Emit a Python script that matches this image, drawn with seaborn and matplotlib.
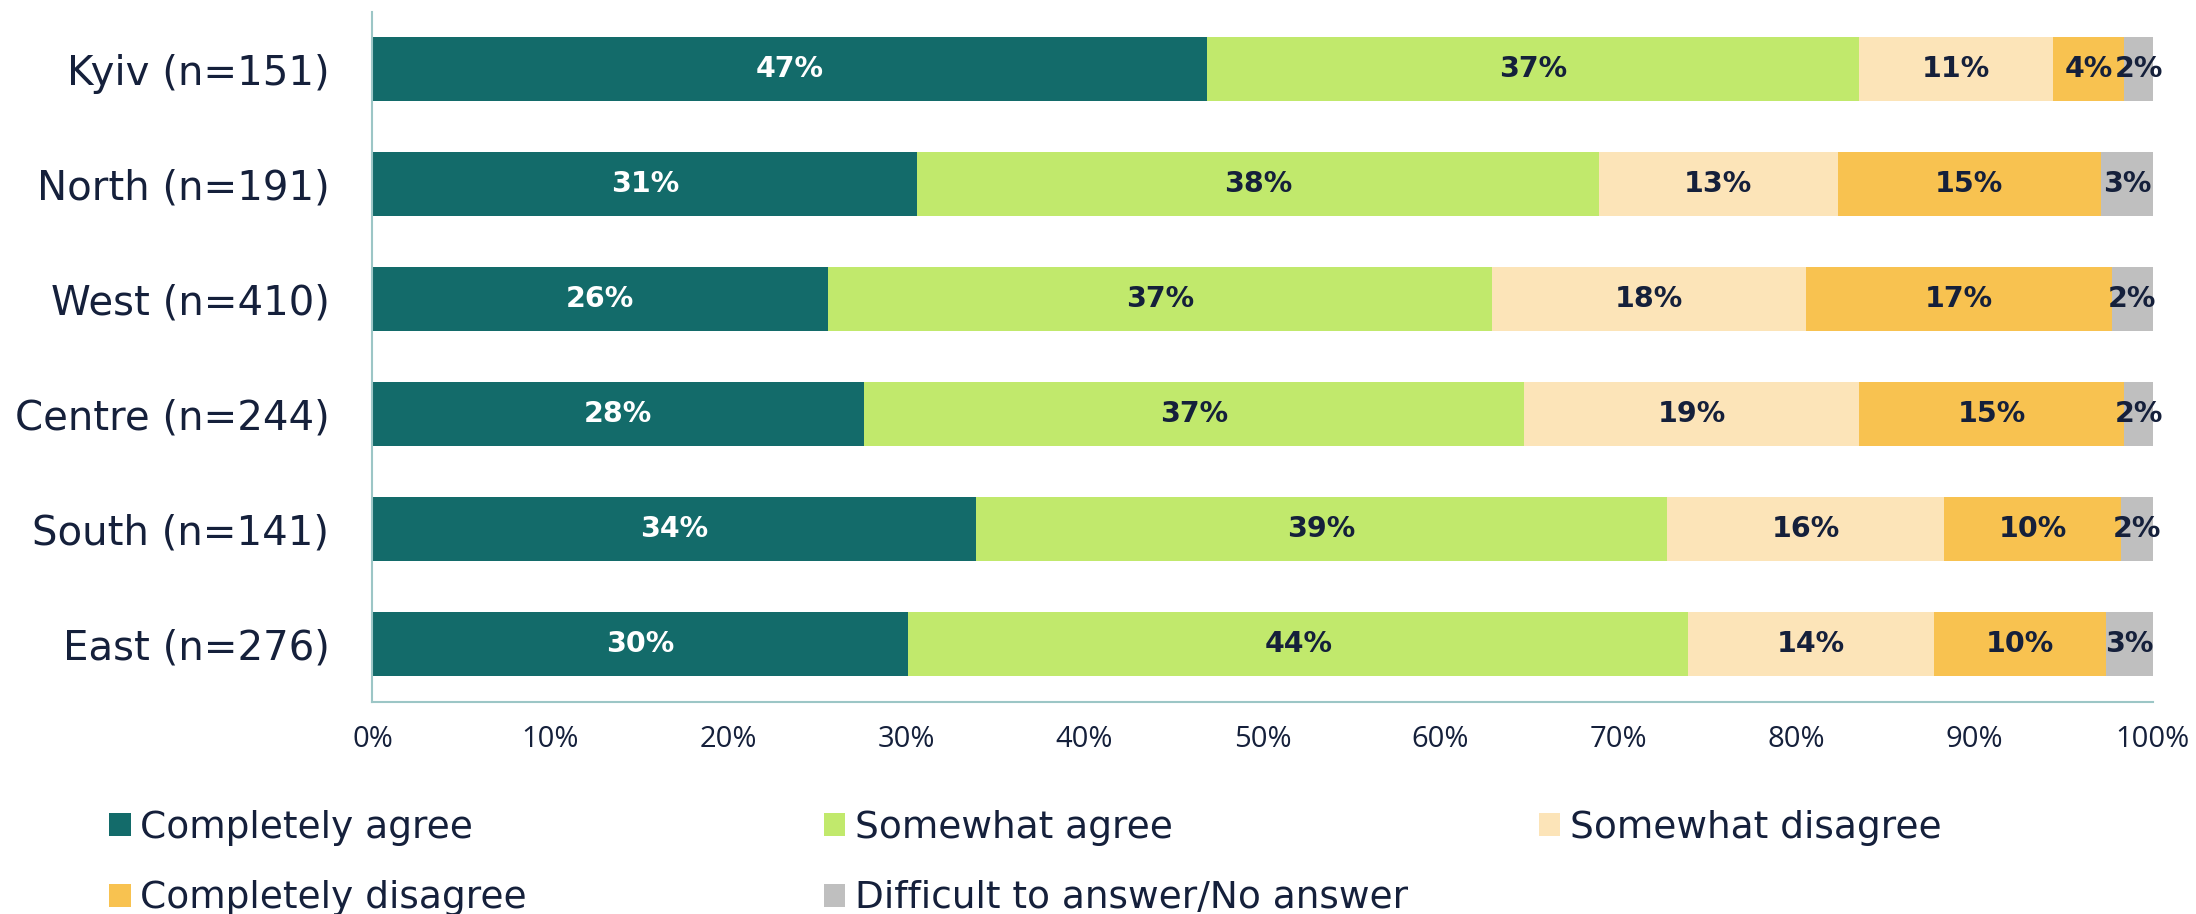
import numpy as np
import pandas as pd
import matplotlib
matplotlib.use("Agg")
import matplotlib.pyplot as plt
from matplotlib.patches import Patch
import seaborn as sns

# Survey shares by region (percent of respondents)
regions = ["Kyiv (n=151)", "North (n=191)", "West (n=410)",
           "Centre (n=244)", "South (n=141)", "East (n=276)"]
answers = ["Completely agree", "Somewhat agree", "Somewhat disagree",
           "Completely disagree", "Difficult to answer/No answer"]

completely_agree = [46.9, 30.6, 25.6, 27.6, 33.9, 30.1]
somewhat_agree = [36.6, 38.3, 37.3, 37.1, 38.8, 43.8]
somewhat_disagree = [10.9, 13.4, 17.6, 18.8, 15.6, 13.8]
completely_disagree = [4.0, 14.8, 17.2, 14.9, 9.9, 9.7]
no_answer = [1.6, 2.9, 2.3, 1.6, 1.8, 2.6]

tick_values = [0, 10, 20, 30, 40, 50, 60, 70, 80, 90, 100]

colors = ["#136b6a", "#c1e96c", "#fce4b8", "#f8c250", "#bfbfbf"]
label_colors = ["white", "#15203b", "#15203b", "#15203b", "#15203b"]
text_color = "#15203b"
axis_color = "#9cc6c6"

series = [completely_agree, somewhat_agree, somewhat_disagree,
          completely_disagree, no_answer]

rows = []
for ans, vals in zip(answers, series):
    for reg, v in zip(regions, vals):
        rows.append({"region": reg, "answer": ans, "value": v})
df = pd.DataFrame(rows)
df["answer"] = pd.Categorical(df["answer"], categories=answers, ordered=True)
df["region"] = pd.Categorical(df["region"], categories=regions, ordered=True)
df = df.sort_values(["region", "answer"])
df["right"] = df.groupby("region", observed=True)["value"].cumsum()
df["left"] = df["right"] - df["value"]

sns.set_theme(style="white")
plt.rcParams["font.family"] = ["Open Sans", "DejaVu Sans"]

fig = plt.figure(figsize=(21.96, 9.14), dpi=100)
ax = fig.add_axes([0.1696, 0.2323, 0.8107, 0.7549])

# Stacked bars: draw cumulative totals from the last answer backwards
for ans, col in reversed(list(zip(answers, colors))):
    sub = df[df["answer"] == ans]
    sns.barplot(data=sub, x="right", y="region", order=regions,
                color=col, orient="h", width=0.555, saturation=1,
                errorbar=None, ax=ax, linewidth=0)

# Value labels centred in each segment
pos = {r: i for i, r in enumerate(regions)}
for _, r in df.iterrows():
    k = answers.index(r["answer"])
    ax.text(r["left"] + r["value"] / 2, pos[r["region"]],
            f"{int(np.floor(r['value'] + 0.5))}%",
            ha="center", va="center", fontsize=20.5, fontweight="bold",
            family="DejaVu Sans", color=label_colors[k])

ax.set_xlim(0, 100)
ax.set_ylim(5.5, -0.5)
ax.set_xticks(tick_values)
ax.set_xticklabels([f"{t}%" for t in tick_values])
ax.set_xlabel("")
ax.set_ylabel("")

for side in ["top", "right"]:
    ax.spines[side].set_visible(False)
for side in ["left", "bottom"]:
    ax.spines[side].set_color(axis_color)
    ax.spines[side].set_linewidth(1.5)

ax.tick_params(axis="x", direction="in", length=6.5, width=1, color=axis_color,
               labelsize=21, labelcolor=text_color, pad=17)
ax.tick_params(axis="y", length=0, labelsize=29, labelcolor=text_color, pad=31)
for lab in ax.get_yticklabels():
    lab.set_family("DejaVu Sans")

# Legend laid out in rows of three
handles = [Patch(facecolor=c, edgecolor="none") for c in colors]
col_x = [0.0497, 0.375, 0.7008]
groups = [[0, 3], [1, 4], [2]]
for x, g in zip(col_x, groups):
    leg = fig.legend([handles[i] for i in g], [answers[i] for i in g],
                     loc="upper left", bbox_to_anchor=(x, 0.1143),
                     frameon=False, prop={"family": "DejaVu Sans", "size": 27},
                     handlelength=0.57, handleheight=0.57, handletextpad=0.26,
                     borderpad=0, borderaxespad=0, labelspacing=0.93)
    for t in leg.get_texts():
        t.set_color(text_color)

fig.savefig("out.png", dpi=100, facecolor="white")
